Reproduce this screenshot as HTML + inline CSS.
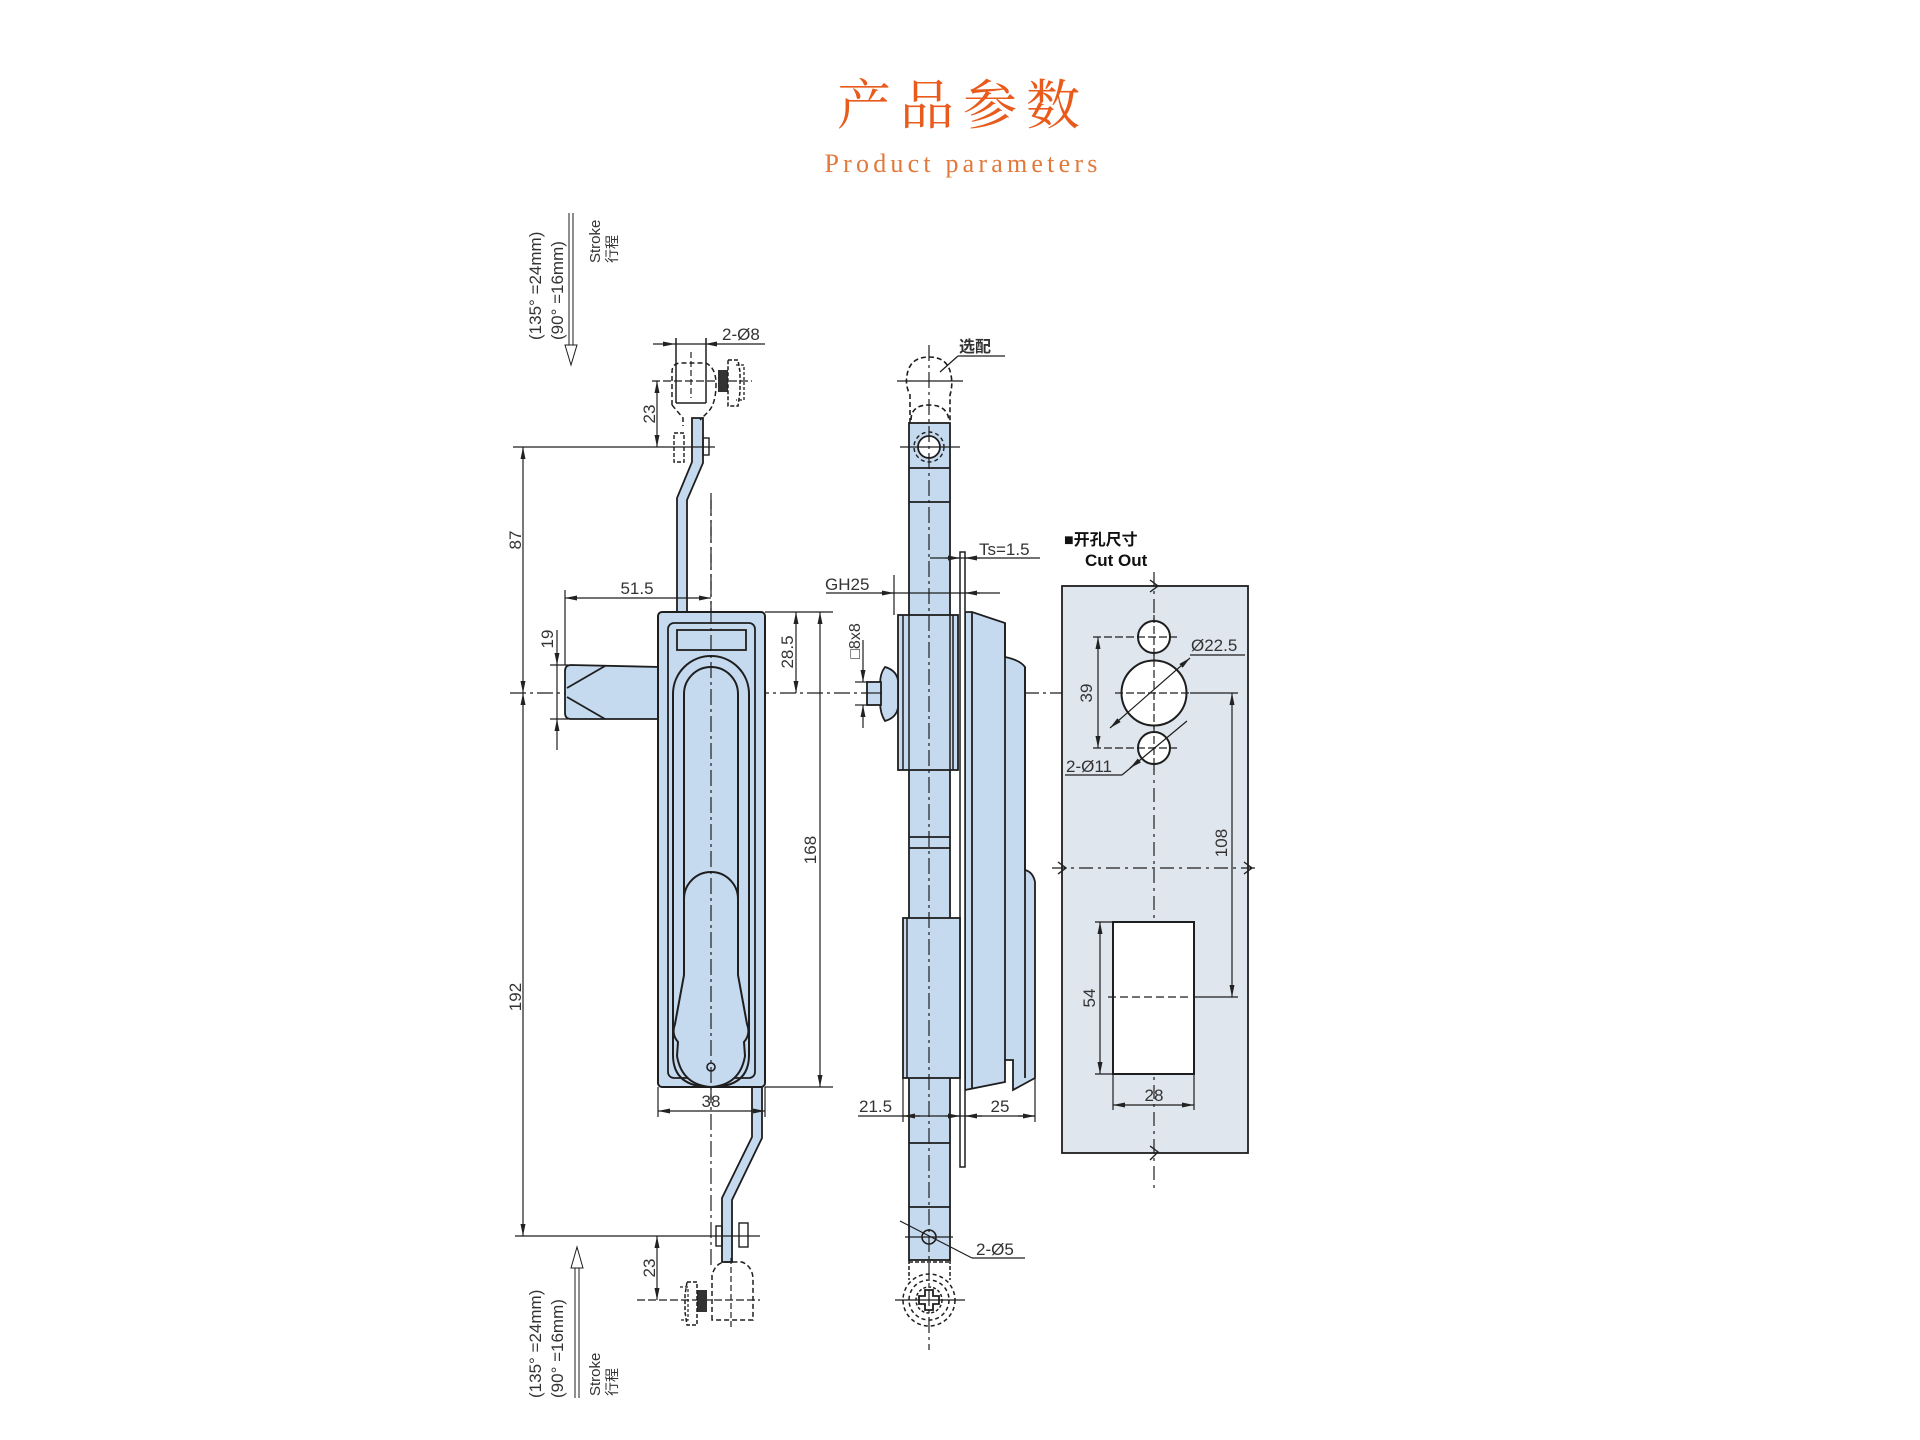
<!DOCTYPE html>
<html><head><meta charset="utf-8"><title>Product parameters</title>
<style>
html,body{margin:0;padding:0;background:#fff;}
svg{display:block;}
.t{font-family:"Liberation Sans","Noto Sans CJK SC",sans-serif;fill:#333;}
</style></head>
<body>
<svg width="1920" height="1440" viewBox="0 0 1920 1440" xmlns="http://www.w3.org/2000/svg">
<defs>
<marker id="a" viewBox="0 0 12 5" refX="12" refY="2.5" markerWidth="12" markerHeight="5" markerUnits="userSpaceOnUse" orient="auto-start-reverse">
<path d="M0,0 L12,2.5 L0,5 Z" fill="#222"/></marker>
</defs>
<rect width="1920" height="1440" fill="#fff"/>

<!-- Title -->
<text x="963" y="124" text-anchor="middle" font-family="'Noto Serif CJK SC','Noto Sans CJK SC',serif" font-size="54" letter-spacing="9" fill="#e85b1c">产品参数</text>
<text x="963" y="172" text-anchor="middle" font-family="'Liberation Serif',serif" font-size="26" letter-spacing="4.2" fill="#e2783a">Product parameters</text>

<g stroke="#1e1e1e" fill="none" stroke-width="1.2">

<!-- ===== LEFT VIEW ===== -->
<path d="M569,213 L569,347 M573,213 L573,347" stroke-width="1"/>
<path d="M565,345 L577,345 L571,365 Z" fill="#fff" stroke-width="1"/>
<path d="M575,1398 L575,1266 M579,1398 L579,1266" stroke-width="1"/>
<path d="M571,1268 L583,1268 L577,1247 Z" fill="#fff" stroke-width="1"/>

<line x1="510" y1="693" x2="1062" y2="693" stroke-dasharray="16 4 3 4"/>
<line x1="711" y1="493" x2="711" y2="1268" stroke-dasharray="16 4 3 4"/>

<path d="M692,418 L703,418 L703,463 L687,500 L687,612 L677,612 L677,498 L692,462 Z" fill="#c5d9ef" stroke-width="1.8"/>
<path d="M752,1087 L762,1087 L762,1138 L732,1200 L732,1262 L722,1262 L722,1198 L752,1137 Z" fill="#c5d9ef" stroke-width="1.8"/>

<path d="M565,671 Q565,665 571,665 L660,667 L660,719 L571,719 Q565,719 565,713 Z" fill="#c5d9ef" stroke-width="1.8"/>
<line x1="567" y1="688" x2="605" y2="666" stroke-width="1.8"/>
<line x1="567" y1="697" x2="605" y2="719" stroke-width="1.8"/>

<rect x="658" y="612" width="107" height="475" rx="4" fill="#c5d9ef" stroke-width="2"/>
<rect x="668" y="623" width="87" height="455" rx="6" stroke-width="1.8"/>
<rect x="677" y="630" width="69" height="20" stroke-width="1.8"/>
<path d="M673,1055 L673,694 A38,38 0 0 1 749,694 L749,1055 Q749,1087 711,1087 Q673,1087 673,1055 Z" stroke-width="2"/>
<path d="M684,985 L684,694 A27,27 0 0 1 738,694 L738,985" stroke-width="2"/>
<path d="M684,899 A27,27 0 0 1 738,899 L738,975 L747,1024 Q751,1034 744,1042 L745,1056 Q740,1085 711,1087 Q682,1085 677,1056 L678,1042 Q671,1034 675,1024 L684,975 Z" fill="#c5d9ef" stroke-width="2"/>
<circle cx="711" cy="1067" r="4" stroke-width="1.6"/>
<line x1="711" y1="500" x2="711" y2="1100" stroke-dasharray="16 4 3 4"/>

<!-- top clevis -->
<line x1="653" y1="344" x2="675" y2="344" marker-end="url(#a)"/>
<line x1="765" y1="344" x2="705" y2="344" marker-end="url(#a)"/>
<line x1="675" y1="344" x2="705" y2="344"/>
<line x1="676" y1="338" x2="676" y2="403" stroke-width="1.5"/>
<line x1="706" y1="338" x2="706" y2="403" stroke-width="1.5"/>
<line x1="676" y1="403" x2="706" y2="403" stroke-width="1.5"/>
<path d="M672,405 L672,372 Q672,363 681,363 L706,363 Q716,368 716,384 Q716,404 708,412 L700,420 M672,405 L683,418 L683,426" stroke-dasharray="5 3" stroke-width="1.5"/>
<line x1="691" y1="352" x2="691" y2="398" stroke-dasharray="6 3"/>
<line x1="652" y1="381" x2="752" y2="381" stroke-dasharray="8 3"/>
<rect x="718" y="370" width="10" height="22" fill="#333" stroke="none"/>
<path d="M728,360 L738,360 L740,372 L740,392 L738,406 L728,406 Z" stroke-dasharray="4 2" stroke-width="1.5"/>
<path d="M736,365 L744,365 L744,400 L736,400" stroke-dasharray="3 2" stroke-width="1.3"/>
<rect x="674" y="433" width="10" height="29" stroke-dasharray="4 2" stroke-width="1.4"/>
<rect x="703" y="438" width="6" height="17" stroke-width="1.4"/>
<line x1="513" y1="447" x2="715" y2="447"/>
<line x1="657" y1="381" x2="657" y2="447" marker-start="url(#a)" marker-end="url(#a)"/>

<!-- bottom clevis -->
<line x1="515" y1="1236" x2="760" y2="1236"/>
<rect x="716" y="1226" width="6" height="20" stroke-width="1.4"/>
<rect x="739" y="1223" width="9" height="24" stroke-width="1.4"/>
<path d="M712,1320 L712,1275 Q716,1262 726,1262 L742,1262 Q752,1266 753,1278 L753,1320 Z" stroke-dasharray="5 3" stroke-width="1.5"/>
<line x1="731" y1="1258" x2="731" y2="1330" stroke-dasharray="6 3"/>
<line x1="637" y1="1300" x2="760" y2="1300" stroke-dasharray="8 3"/>
<rect x="697" y="1290" width="10" height="22" fill="#333" stroke="none"/>
<path d="M687,1282 L697,1282 L697,1325 L687,1325 L685,1312 L685,1295 Z" stroke-dasharray="4 2" stroke-width="1.5"/>
<path d="M680,1287 L688,1287 L688,1320 L680,1320" stroke-dasharray="3 2"/>
<line x1="657" y1="1236" x2="657" y2="1300" marker-start="url(#a)" marker-end="url(#a)"/>

<!-- left dims -->
<line x1="523" y1="447" x2="523" y2="693" marker-start="url(#a)" marker-end="url(#a)"/>
<line x1="523" y1="693" x2="523" y2="1236" marker-start="url(#a)" marker-end="url(#a)"/>
<line x1="557" y1="630" x2="557" y2="665" marker-end="url(#a)"/>
<line x1="557" y1="750" x2="557" y2="719" marker-end="url(#a)"/>
<line x1="557" y1="665" x2="557" y2="719"/>
<line x1="550" y1="665" x2="568" y2="665"/>
<line x1="550" y1="719" x2="568" y2="719"/>
<line x1="565" y1="590" x2="565" y2="665"/>
<line x1="565" y1="598" x2="711" y2="598" marker-start="url(#a)" marker-end="url(#a)"/>
<line x1="765" y1="612" x2="833" y2="612"/>
<line x1="765" y1="1087" x2="833" y2="1087"/>
<line x1="796" y1="612" x2="796" y2="693" marker-start="url(#a)" marker-end="url(#a)"/>
<line x1="820" y1="612" x2="820" y2="1087" marker-start="url(#a)" marker-end="url(#a)"/>
<line x1="658" y1="1087" x2="658" y2="1117"/>
<line x1="765" y1="1087" x2="765" y2="1117"/>
<line x1="658" y1="1111" x2="765" y2="1111" marker-start="url(#a)" marker-end="url(#a)"/>

<!-- ===== MIDDLE VIEW ===== -->
<path d="M965,612 L972,612 L1005,623 L1005,657 Q1020,660 1025,667 L1025,870 Q1033,872 1035,882 L1035,1078 L1013,1090 L1013,1060 L1005,1060 L1005,1082 L965,1090 Z" fill="#c5d9ef" stroke-width="1.8"/>
<line x1="972" y1="612" x2="972" y2="1088" stroke-width="1.8"/>
<line x1="1005" y1="623" x2="1005" y2="1060" stroke-width="1.8"/>
<line x1="1025" y1="667" x2="1025" y2="1078" stroke-width="1.8"/>

<rect x="909" y="423" width="41" height="837" fill="#c5d9ef" stroke-width="1.8"/>
<line x1="909" y1="468" x2="950" y2="468" stroke-width="1.8"/>
<line x1="909" y1="502" x2="950" y2="502" stroke-width="1.8"/>
<line x1="909" y1="837" x2="950" y2="837" stroke-width="1.8"/>
<line x1="909" y1="848" x2="950" y2="848" stroke-width="1.8"/>
<line x1="909" y1="1143" x2="950" y2="1143" stroke-width="1.8"/>
<line x1="909" y1="1207" x2="950" y2="1207" stroke-width="1.8"/>

<rect x="960" y="552" width="5" height="615" fill="#fff" stroke-width="1.5"/>

<rect x="898" y="615" width="60" height="155" fill="#c5d9ef" stroke-width="1.8"/>
<line x1="903" y1="615" x2="903" y2="770" stroke-width="1.5"/>
<line x1="953" y1="615" x2="953" y2="770" stroke-width="1.5"/>
<line x1="909" y1="615" x2="909" y2="770" stroke-width="1.5"/>
<line x1="950" y1="615" x2="950" y2="770" stroke-width="1.5"/>

<rect x="903" y="918" width="57" height="160" fill="#c5d9ef" stroke-width="1.8"/>
<line x1="907" y1="918" x2="907" y2="1078" stroke-width="1.5"/>

<path d="M885,667 Q896,670 898,680 L898,708 Q896,718 885,721 Q878,710 881,693 Q878,676 885,667 Z" fill="#c5d9ef" stroke-width="1.8"/>
<rect x="867" y="682" width="14" height="23" fill="#c5d9ef" stroke-width="1.8"/>
<line x1="867" y1="693" x2="881" y2="693"/>

<path d="M910,423 L910,395 Q905,385 907,375 Q910,357 929,357 Q948,357 951,375 Q953,385 950,395 L950,423" stroke-dasharray="5 3" stroke-width="1.6"/>
<path d="M911,420 Q911,405 929,405 Q947,405 949,420" stroke-dasharray="5 3" stroke-width="1.6"/>
<circle cx="929" cy="447" r="15" stroke-dasharray="4 3" stroke-width="1.4"/>
<circle cx="929" cy="447" r="11" fill="#fff" stroke-width="1.8"/>
<line x1="897" y1="381" x2="963" y2="381"/>
<line x1="900" y1="447" x2="960" y2="447"/>
<line x1="940" y1="372" x2="958" y2="356"/>
<line x1="958" y1="356" x2="1005" y2="356"/>

<circle cx="929" cy="1237" r="7" fill="#c5d9ef" stroke-width="1.6"/>
<line x1="905" y1="1237" x2="953" y2="1237"/>
<line x1="900" y1="1221" x2="972" y2="1258"/>
<line x1="972" y1="1258" x2="1025" y2="1258"/>
<path d="M909,1260 L909,1280 M950,1260 L950,1280 M909,1262 L950,1262" stroke-dasharray="4 2" stroke-width="1.5"/>
<circle cx="929" cy="1300" r="26" stroke-dasharray="4 3" stroke-width="1.5"/>
<circle cx="929" cy="1300" r="20" stroke-dasharray="4 3" stroke-width="1.5"/>
<circle cx="929" cy="1300" r="13" stroke-dasharray="3 2" stroke-width="1.5"/>
<path d="M925,1290 L933,1290 L933,1296 L939,1296 L939,1304 L933,1304 L933,1310 L925,1310 L925,1304 L919,1304 L919,1296 L925,1296 Z" stroke-width="1.8"/>
<line x1="895" y1="1300" x2="965" y2="1300"/>
<line x1="929" y1="345" x2="929" y2="1350" stroke-dasharray="16 4 3 4"/>

<line x1="930" y1="558" x2="1040" y2="558"/>
<line x1="945" y1="558" x2="960" y2="558" marker-end="url(#a)"/>
<line x1="980" y1="558" x2="965" y2="558" marker-end="url(#a)"/>
<line x1="826" y1="593" x2="1000" y2="593"/>
<line x1="880" y1="593" x2="894" y2="593" marker-end="url(#a)"/>
<line x1="980" y1="593" x2="965" y2="593" marker-end="url(#a)"/>
<line x1="894" y1="575" x2="894" y2="615"/>
<line x1="855" y1="682" x2="868" y2="682"/>
<line x1="855" y1="705" x2="868" y2="705"/>
<line x1="863" y1="640" x2="863" y2="682" marker-end="url(#a)"/>
<line x1="863" y1="728" x2="863" y2="705" marker-end="url(#a)"/>
<line x1="903" y1="1078" x2="903" y2="1122"/>
<line x1="1035" y1="1078" x2="1035" y2="1122"/>
<line x1="858" y1="1116" x2="1035" y2="1116"/>
<line x1="920" y1="1116" x2="903" y2="1116" marker-end="url(#a)"/>
<line x1="945" y1="1116" x2="960" y2="1116" marker-end="url(#a)"/>
<line x1="982" y1="1116" x2="965" y2="1116" marker-end="url(#a)"/>
<line x1="1018" y1="1116" x2="1035" y2="1116" marker-end="url(#a)"/>

<!-- ===== CUT OUT ===== -->
<rect x="1062" y="586" width="186" height="567" fill="#dfe6ed" stroke-width="1.8"/>
<line x1="1154" y1="572" x2="1154" y2="1192" stroke-dasharray="14 5 3 5"/>
<path d="M1150,580 L1158,586 L1150,592" stroke-width="1.4"/>
<path d="M1150,1146 L1158,1152 L1150,1160" stroke-width="1.4"/>
<line x1="1052" y1="868" x2="1258" y2="868" stroke-dasharray="14 5 3 5"/>
<path d="M1058,862 L1066,868 L1058,874" stroke-width="1.4"/>
<path d="M1244,862 L1252,868 L1244,874" stroke-width="1.4"/>
<circle cx="1154" cy="637" r="16" fill="#fff" stroke-width="2"/>
<circle cx="1154" cy="693" r="32.5" fill="#fff" stroke-width="2"/>
<circle cx="1154" cy="748" r="16" fill="#fff" stroke-width="2"/>
<line x1="1154" y1="615" x2="1154" y2="770" stroke-dasharray="8 3"/>
<line x1="1093" y1="637" x2="1177" y2="637" stroke-dasharray="8 3"/>
<line x1="1115" y1="693" x2="1190" y2="693" stroke-dasharray="8 3"/>
<line x1="1093" y1="748" x2="1177" y2="748" stroke-dasharray="8 3"/>
<line x1="1098" y1="637" x2="1098" y2="748" marker-start="url(#a)" marker-end="url(#a)"/>
<line x1="1110" y1="728" x2="1190" y2="658" marker-start="url(#a)" marker-end="url(#a)"/>
<line x1="1190" y1="655" x2="1245" y2="655"/>
<line x1="1065" y1="775" x2="1122" y2="775"/>
<line x1="1122" y1="775" x2="1187" y2="721"/>
<line x1="1130" y1="768" x2="1140" y2="760" marker-start="url(#a)"/>
<line x1="1190" y1="693" x2="1238" y2="693"/>
<line x1="1190" y1="997" x2="1238" y2="997"/>
<line x1="1232" y1="693" x2="1232" y2="997" marker-start="url(#a)" marker-end="url(#a)"/>
<rect x="1113" y="922" width="81" height="152" fill="#fff" stroke-width="2"/>
<line x1="1108" y1="997" x2="1190" y2="997" stroke-dasharray="8 4"/>
<line x1="1095" y1="922" x2="1113" y2="922"/>
<line x1="1095" y1="1074" x2="1113" y2="1074"/>
<line x1="1100" y1="922" x2="1100" y2="1074" marker-start="url(#a)" marker-end="url(#a)"/>
<line x1="1113" y1="1074" x2="1113" y2="1110"/>
<line x1="1194" y1="1074" x2="1194" y2="1110"/>
<line x1="1113" y1="1105" x2="1194" y2="1105" marker-start="url(#a)" marker-end="url(#a)"/>
</g>

<!-- ===== TEXT ===== -->
<g class="t" font-size="17">
<text transform="translate(541,340) rotate(-90)" font-size="17">(135°  =24mm)</text>
<text transform="translate(563,340) rotate(-90)" font-size="17">(90°  =16mm)</text>
<text transform="translate(600,263) rotate(-90)" font-size="15">Stroke</text>
<text transform="translate(617,263) rotate(-90)" font-size="14">行程</text>
<text transform="translate(541,1398) rotate(-90)" font-size="17">(135°  =24mm)</text>
<text transform="translate(563,1398) rotate(-90)" font-size="17">(90°  =16mm)</text>
<text transform="translate(600,1396) rotate(-90)" font-size="15">Stroke</text>
<text transform="translate(617,1396) rotate(-90)" font-size="14">行程</text>

<text x="722" y="340" font-size="17">2-Ø8</text>
<text transform="translate(655,414) rotate(-90)" text-anchor="middle" font-size="17">23</text>
<text transform="translate(655,1268) rotate(-90)" text-anchor="middle" font-size="17">23</text>
<text transform="translate(521,540) rotate(-90)" text-anchor="middle">87</text>
<text transform="translate(521,997) rotate(-90)" text-anchor="middle">192</text>
<text transform="translate(553,639) rotate(-90)" text-anchor="middle">19</text>
<text x="637" y="594" text-anchor="middle">51.5</text>
<text transform="translate(793,652) rotate(-90)" text-anchor="middle">28.5</text>
<text transform="translate(816,850) rotate(-90)" text-anchor="middle">168</text>
<text x="711" y="1107" text-anchor="middle">38</text>

<text x="959" y="352" font-size="16" font-weight="bold">选配</text>
<text x="979" y="555">Ts=1.5</text>
<text x="825" y="590">GH25</text>
<text transform="translate(860,641) rotate(-90)" text-anchor="middle" font-size="16">□8x8</text>
<text x="859" y="1112">21.5</text>
<text x="1000" y="1112" text-anchor="middle">25</text>
<text x="976" y="1255">2-Ø5</text>

<text x="1064" y="545" font-size="16" font-weight="bold" fill="#111">■开孔尺寸</text>
<text x="1085" y="566" font-size="17" font-weight="bold" fill="#111">Cut Out</text>
<text x="1191" y="651" font-size="17">Ø22.5</text>
<text x="1066" y="772" font-size="17">2-Ø11</text>
<text transform="translate(1092,693) rotate(-90)" text-anchor="middle">39</text>
<text transform="translate(1227,843) rotate(-90)" text-anchor="middle">108</text>
<text transform="translate(1095,998) rotate(-90)" text-anchor="middle">54</text>
<text x="1154" y="1101" text-anchor="middle">28</text>
</g>
</svg>
</body></html>
